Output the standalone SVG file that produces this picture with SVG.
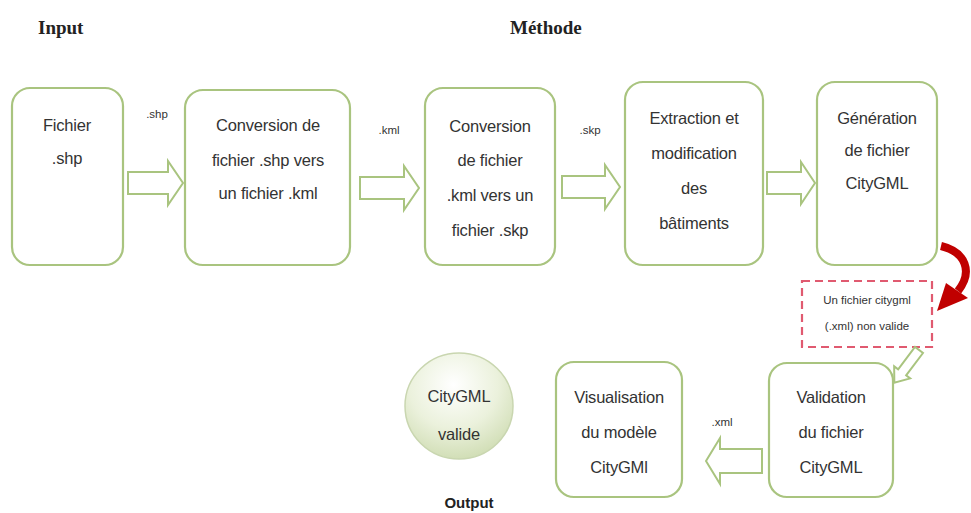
<svg xmlns="http://www.w3.org/2000/svg" width="971" height="513" viewBox="0 0 971 513">
<defs>
<radialGradient id="eg" cx="0.45" cy="0.3" r="0.75">
<stop offset="0" stop-color="#ffffff"/>
<stop offset="0.55" stop-color="#ebf1dc"/>
<stop offset="1" stop-color="#cddbb0"/>
</radialGradient>
<style>
.box{fill:#ffffff;stroke:#a9c47f;stroke-width:2.2}
.t{font-family:"Liberation Sans",Arial,sans-serif;font-size:16.5px;fill:#333;text-anchor:middle;letter-spacing:-0.2px}
.lbl{font-family:"Liberation Sans",Arial,sans-serif;font-size:11.5px;fill:#333;text-anchor:middle}
.ttl{font-family:"Liberation Serif","Times New Roman",serif;font-weight:bold;font-size:19px;fill:#222}
.arr{fill:#ffffff;stroke:#a9c47f;stroke-width:2}
</style>
</defs>
<rect width="971" height="513" fill="#ffffff"/>
<text class="ttl" x="38" y="34">Input</text>
<text class="ttl" x="510" y="34">Méthode</text>

<g id="n1"><rect class="box" x="12" y="88" width="111" height="177" rx="18"/>
<text class="t" x="67" y="131">Fichier</text><text class="t" x="67" y="164">.shp</text></g>
<g id="n2"><rect class="box" x="185" y="90" width="165" height="175" rx="18"/>
<text class="t" x="268" y="131">Conversion de</text><text class="t" x="268" y="166">fichier .shp vers</text><text class="t" x="268" y="199">un fichier .kml</text></g>
<g id="n3"><rect class="box" x="425" y="88" width="130" height="177" rx="18"/>
<text class="t" x="490" y="132">Conversion</text><text class="t" x="490" y="166">de fichier</text><text class="t" x="490" y="201">.kml vers un</text><text class="t" x="490" y="236">fichier .skp</text></g>
<g id="n4"><rect class="box" x="625" y="82" width="138" height="183" rx="18"/>
<text class="t" x="694" y="124">Extraction et</text><text class="t" x="694" y="159">modification</text><text class="t" x="694" y="194">des</text><text class="t" x="694" y="229">bâtiments</text></g>
<g id="n5"><rect class="box" x="817" y="82" width="120" height="183" rx="18"/>
<text class="t" x="877" y="124">Génération</text><text class="t" x="877" y="156">de fichier</text><text class="t" x="877" y="189">CityGML</text></g>
<g id="n6"><rect x="802" y="281" width="130" height="66" fill="#ffffff" stroke="#e05a70" stroke-width="2.2" stroke-dasharray="8,5"/>
<text class="lbl" x="867" y="304">Un fichier citygml</text><text class="lbl" x="867" y="330">(.xml) non valide</text></g>
<g id="n7"><rect class="box" x="769" y="363" width="124" height="134" rx="18"/>
<text class="t" x="831" y="403">Validation</text><text class="t" x="831" y="438">du fichier</text><text class="t" x="831" y="473">CityGML</text></g>
<g id="n8"><rect class="box" x="556" y="362" width="126" height="135" rx="18"/>
<text class="t" x="619" y="403">Visualisation</text><text class="t" x="619" y="438">du modèle</text><text class="t" x="619" y="473">CityGMl</text></g>
<g id="n9"><ellipse cx="459" cy="406" rx="54" ry="53" fill="url(#eg)" stroke="#c9d6b0" stroke-width="1.5"/>
<text class="t" x="459" y="402">CityGML</text><text class="t" x="459" y="440">valide</text>
<text x="469" y="508" font-family="'Liberation Sans',Arial,sans-serif" font-weight="bold" font-size="15" fill="#222" text-anchor="middle">Output</text></g>

<g id="connectors">
<path class="arr" d="M128,172 L168,172 L168,161 L183,183 L168,205 L168,194 L128,194 Z"/>
<path class="arr" d="M360,177 L404,177 L404,166 L419,188 L404,210 L404,199 L360,199 Z"/>
<path class="arr" d="M562,176 L605,176 L605,165 L620,187 L605,209 L605,198 L562,198 Z"/>
<path class="arr" d="M767,172 L801,172 L801,162 L815,183 L801,204 L801,194 L767,194 Z"/>
<path class="arr" d="M762,449 L720,449 L720,438 L706,461 L720,484 L720,473 L762,473 Z"/>
<path class="arr" transform="translate(919,350) rotate(127)" d="M0,-5 L28,-5 L28,-10 L41,0 L28,10 L28,5 L0,5 Z"/>
<path d="M941,246 C966,252 973,272 958,291" fill="none" stroke="#c00000" stroke-width="8"/>
<polygon points="946,283 968,298 937,311" fill="#c00000"/>
<text class="lbl" x="157" y="118">.shp</text>
<text class="lbl" x="389" y="134">.kml</text>
<text class="lbl" x="590" y="134">.skp</text>
<text class="lbl" x="722" y="426">.xml</text>
</g>
</svg>
